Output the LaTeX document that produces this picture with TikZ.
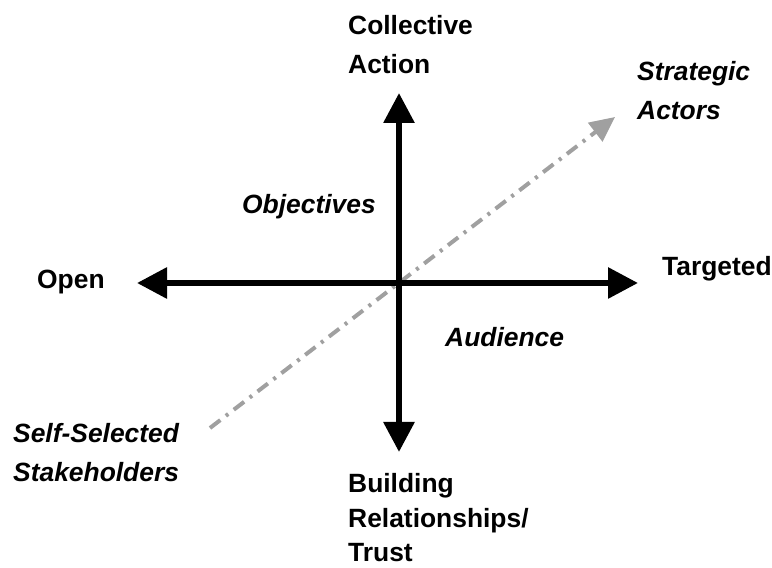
\documentclass[tikz,border=0pt]{standalone}
\usepackage{fontspec}
\setmainfont{Liberation Sans}
\usepackage{xcolor}
\definecolor{axisgray}{RGB}{160,160,160}
\usetikzlibrary{arrows.meta}

\begin{document}
\begin{tikzpicture}[x=1pt,y=1pt,
  axis/.style={line width=6pt,{Triangle[length=30pt,width=30pt]}-{Triangle[length=30pt,width=30pt]}},
  diag/.style={axisgray,line width=4pt,dash pattern=on 13pt off 7pt on 3pt off 7pt,-{Triangle[length=25pt,width=23pt]}},
  lbl/.style={inner sep=0pt,anchor=base west,align=left,font=\fontsize{26.4}{39}\selectfont\bfseries},
  ilbl/.style={lbl,font=\fontsize{26.4}{39}\selectfont\bfseries\itshape}]
  \useasboundingbox (0,0) rectangle (772,568);
  % axis end points
  \coordinate (o) at (399,285);
  \coordinate (w) at (137,285);
  \coordinate (e) at (638,285);
  \coordinate (n) at (399,475);
  \coordinate (s) at (399,116);
  \coordinate (sw) at (210,140);
  \coordinate (ne) at (615,451);
  % diagonal axis first, the black ones go on top
  \draw[diag] (sw) -- (ne);
  \draw[axis] (w) -- (e);
  \draw[axis] (s) -- (n);
  % axis labels (base = baseline of the last line)
  \node[lbl] (collective) at (348,494) {Collective\\Action};
  \node[ilbl] (strategic) at (637,448) {Strategic\\Actors};
  \node[ilbl] (objectives) at (242,354) {Objectives};
  \node[lbl] (open) at (37,279) {Open};
  \node[lbl] (targeted) at (662,292) {Targeted};
  \node[ilbl] (audience) at (445,221) {Audience};
  \node[ilbl] (selfsel) at (13,86) {Self-Selected\\Stakeholders};
  \node[lbl,font=\fontsize{26.4}{34.5}\selectfont\bfseries] (building) at (348,6) {Building\\Relationships/\\Trust};
\end{tikzpicture}
\end{document}
